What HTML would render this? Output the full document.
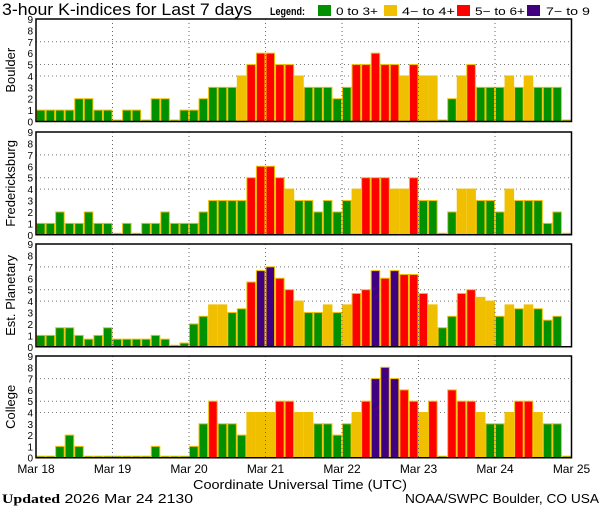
<!DOCTYPE html>
<html><head><meta charset="utf-8">
<style>
html,body{margin:0;padding:0;background:#fff;}
svg{display:block;font-family:"Liberation Sans",sans-serif;}
</style></head>
<body>
<svg id="chart" width="600" height="510" viewBox="0 0 600 510" xmlns="http://www.w3.org/2000/svg">
<text x="2" y="15" font-size="17" textLength="250" lengthAdjust="spacingAndGlyphs">3-hour K-indices for Last 7 days</text>
<g font-size="11">
<text x="270" y="15" font-weight="bold" textLength="35" lengthAdjust="spacingAndGlyphs">Legend:</text>
<rect x="318" y="5" width="13" height="11" fill="#009000"/>
<text x="336" y="15" textLength="42" lengthAdjust="spacingAndGlyphs">0 to 3+</text>
<rect x="384" y="5" width="13" height="11" fill="#f0c000"/>
<text x="402" y="15" textLength="53" lengthAdjust="spacingAndGlyphs">4− to 4+</text>
<rect x="457" y="5" width="13" height="11" fill="#ff0000"/>
<text x="475" y="15" textLength="50" lengthAdjust="spacingAndGlyphs">5− to 6+</text>
<rect x="527" y="5" width="13" height="11" fill="#400080"/>
<text x="546" y="15" textLength="44" lengthAdjust="spacingAndGlyphs">7− to 9</text>
</g>
<g id="panels"></g>
<g id="xlabels" font-size="12"></g>
<text x="193" y="489" font-size="13" textLength="214" lengthAdjust="spacingAndGlyphs">Coordinate Universal Time (UTC)</text>
<text x="2" y="503" font-size="13" textLength="191" lengthAdjust="spacingAndGlyphs"><tspan font-family="Liberation Serif,serif" font-weight="bold">Updated</tspan> 2026 Mar 24 2130</text>
<text x="405" y="503" font-size="13" textLength="194" lengthAdjust="spacingAndGlyphs">NOAA/SWPC Boulder, CO USA</text>
</svg>
<script>
const days = ["Mar 18","Mar 19","Mar 20","Mar 21","Mar 22","Mar 23","Mar 24","Mar 25"];
const stations = ["Boulder","Fredericksburg","Est. Planetary","College"];
const boulder = [1,1,1,1,2,2,1,1, 0,1,1,0,2,2,0,1, 1,2,3,3,3,4,5,6, 6,5,5,4,3,3,3,2, 3,5,5,6,5,5,4,5, 4,4,0,2,4,5,3,3, 3,4,3,4,3,3,3,0];
const fredericksburg = [1,1,2,1,1,2,1,1, 0,1,0,1,1,2,1,1, 1,2,3,3,3,3,5,6, 6,5,4,3,3,2,3,2, 3,4,5,5,5,4,4,5, 3,3,0,2,4,4,3,3, 2,4,3,3,3,1,2,0];
const planetary = [1,1,1.67,1.67,1,0.67,1,1.67, 0.67,0.67,0.67,0.67,1,0.67,0,0.33, 2,2.67,3.67,3.67,3,3.33,5.67,6.67, 7,6,5,4,3,3,3.67,3, 3.67,4.67,5,6.67,6,6.67,6.33,6.33, 4.67,3.67,1.67,2.67,4.67,5,4.33,4, 2.67,3.67,3.33,3.67,3.33,2.33,2.67,null];
const college = [0,0,1,2,1,0,0,0, 0,0,0,0,1,0,0,0, 1,3,5,3,3,2,4,4, 4,5,5,4,4,3,3,2, 3,4,5,7,8,7,6,5, 4,5,0,6,5,5,4,3, 3,4,5,5,4,3,3,0];
const yTicks = [0,1,2,3,4,5,6,7,8,9];
const gridLevels = [4,5,7];

const series = [boulder, fredericksburg, planetary, college];
const tops = [19,132,244,356], zeros = [121.5,234.8,346.8,457.7];
const X0 = 36, DAYW = 76.5, BARW = DAYW/8;
const NS = "http://www.w3.org/2000/svg";
const xScale = i => X0 + i*BARW;
function mk(tag, attrs, parent){const e=document.createElementNS(NS,tag);for(const k in attrs)e.setAttribute(k,attrs[k]);parent.appendChild(e);return e;}
function color(v){return v>=6.5?"#400080":v>=4.5?"#ff0000":v>=3.5?"#f0c000":"#009000";}
const panels = document.getElementById("panels");
series.forEach((vals, p) => {
  const top = tops[p], zero = zeros[p], unit = (zero-top)/9;
  const yScale = v => zero - v*unit;
  const g = mk("g", {}, panels);
  
  
  gridLevels.forEach(l => {
    const ln = mk("line", {x1:X0, x2:X0+7*DAYW, y1:yScale(l), y2:yScale(l), stroke:"#777", "stroke-dasharray":"1,3"}, g);
    
    
  });
  vals.forEach((v, i) => {
    if (v === null) return;
    const h = Math.max(v*unit, 1.5);
    const r = mk("rect", {x:xScale(i)+0.5, y:zero-h, width:BARW-1, height:h, fill:color(v), stroke:"#f0c000", "stroke-width":1}, g);
    
    
  });
  for (let d=1; d<7; d++) {
    const ln = mk("line", {x1:X0+d*DAYW, x2:X0+d*DAYW, y1:top, y2:zero, stroke:"#666", "stroke-dasharray":"1,3"}, g);
    
    
  }
  const fr = mk("path", {d:`M${X0},${top}H${X0+7*DAYW}V${zero}H${X0}Z`, fill:"none", stroke:"#000", "stroke-width":1.5}, g);
  
  
  yTicks.forEach(t => {
    const tx = mk("text", {x:33, y:yScale(t)+4, "font-size":10, "text-anchor":"end"}, g);
    tx.textContent = t;
    
    
  });
  const cy = (top+zero)/2;
  const yt = mk("text", {x:0, y:0, "font-size":13, "text-anchor":"middle", transform:`translate(15,${cy}) rotate(-90)`}, g);
  yt.textContent = stations[p];
  
  
});
const xl = document.getElementById("xlabels");
days.forEach((d, i) => {
  const t = mk("text", {x:X0+i*DAYW, y:473, "text-anchor":"middle"}, xl);
  t.textContent = d;
  
  
});
</script>
</body></html>
